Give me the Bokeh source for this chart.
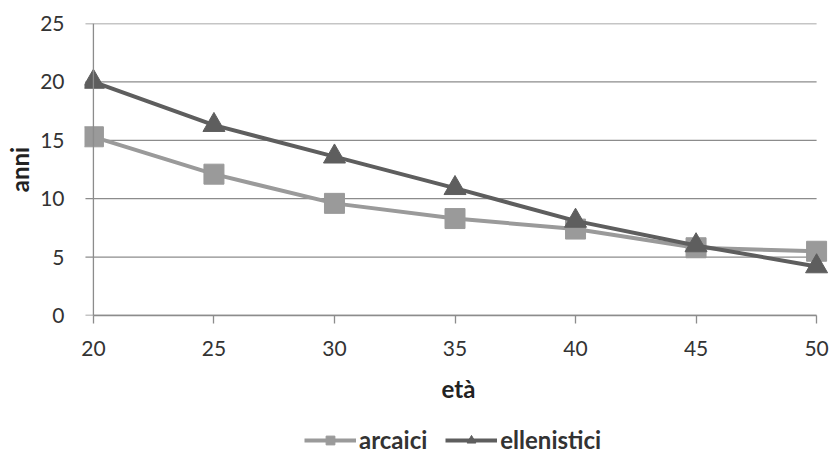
from bokeh.plotting import figure
from bokeh.layouts import column
from bokeh.models import Range1d, Span, Legend, LegendItem, FixedTicker
from bokeh.embed import file_html
from bokeh.resources import INLINE

eta = [20, 25, 30, 35, 40, 45, 50]
arcaici = [15.3, 12.1, 9.6, 8.3, 7.4, 5.8, 5.5]
ellenistici = [20.0, 16.3, 13.6, 10.9, 8.1, 6.0, 4.2]
y_ticks = [0, 5, 10, 15, 20, 25]
x_ticks = [20, 25, 30, 35, 40, 45, 50]

FONT = "Lato"
C_ARC = "#9a9a9a"
C_ELL = "#5e5e5e"
C_GRID = "#8c8c8c"

p = figure(frame_width=748, frame_height=292, output_backend="svg", toolbar_location=None,
           x_range=Range1d(19.63, 50.66), y_range=Range1d(0, 25),
           min_border_left=84, min_border_right=0, min_border_top=23, min_border_bottom=109)
p.outline_line_color = None
p.xgrid.visible = False
p.ygrid.visible = False

# horizontal gridlines (with the small left ticks)
ext = 0.33
p.segment(x0=[min(x_ticks) - ext] * len(y_ticks), y0=y_ticks,
          x1=[max(x_ticks)] * len(y_ticks), y1=y_ticks,
          line_color=C_GRID, line_width=1.3)
# vertical axis line
p.add_layout(Span(location=min(x_ticks), dimension="height", line_color=C_GRID, line_width=1.3))

# x axis
xa = p.xaxis[0]
xa.bounds = (min(x_ticks), max(x_ticks))
xa.ticker = FixedTicker(ticks=x_ticks)
xa.axis_line_color = C_GRID
xa.axis_line_width = 1.3
xa.major_tick_line_color = C_GRID
xa.major_tick_line_width = 1.3
xa.major_tick_in = 0
xa.major_tick_out = 8
xa.minor_tick_line_color = None
xa.major_label_text_font = FONT
xa.major_label_text_font_size = "21px"
xa.major_label_text_color = "#333333"
xa.major_label_standoff = 17
xa.axis_label = "età"
xa.axis_label_text_font = FONT
xa.axis_label_text_font_size = "24px"
xa.axis_label_text_font_style = "bold"
xa.axis_label_text_color = "#222222"
xa.axis_label_standoff = 15

# y axis (labels only)
ya = p.yaxis[0]
ya.ticker = FixedTicker(ticks=y_ticks)
ya.axis_line_color = None
ya.major_tick_line_color = None
ya.minor_tick_line_color = None
ya.major_label_text_font = FONT
ya.major_label_text_font_size = "21px"
ya.major_label_text_color = "#333333"
ya.major_label_standoff = 14
ya.axis_label = "anni"
ya.axis_label_text_font = FONT
ya.axis_label_text_font_size = "24px"
ya.axis_label_text_font_style = "bold"
ya.axis_label_text_color = "#222222"
ya.axis_label_standoff = 3

p.line(eta, arcaici, line_color=C_ARC, line_width=4)
p.scatter(eta, arcaici, marker="square", size=20, fill_color=C_ARC, line_color=C_ARC)
p.line(eta, ellenistici, line_color=C_ELL, line_width=4)
p.scatter(eta, ellenistici, marker="triangle", size=22, fill_color=C_ELL, line_color=C_ELL)

# legend strip below the chart
q = figure(width=832, height=30, output_backend="svg", toolbar_location=None,
           x_axis_type=None, y_axis_type=None, min_border=0,
           x_range=Range1d(0, 1), y_range=Range1d(0, 1))
q.outline_line_color = None
q.grid.visible = False
l1 = q.line(eta, arcaici, line_color=C_ARC, line_width=4, visible=False)
m1 = q.scatter(eta, arcaici, marker="square", size=20, fill_color=C_ARC, line_color=C_ARC, visible=False)
l2 = q.line(eta, ellenistici, line_color=C_ELL, line_width=4, visible=False)
m2 = q.scatter(eta, ellenistici, marker="triangle", size=22, fill_color=C_ELL, line_color=C_ELL, visible=False)

legend = Legend(items=[LegendItem(label="arcaici", renderers=[l1, m1]),
                       LegendItem(label="ellenistici", renderers=[l2, m2])],
                orientation="horizontal", location=(220, 0),
                label_text_font=FONT, label_text_font_size="24px", label_text_font_style="bold",
                label_text_color="#333333", glyph_width=52, glyph_height=22,
                spacing=18, label_standoff=3, border_line_color=None,
                background_fill_alpha=0, margin=0, padding=0)
q.add_layout(legend, "center")

layout = column(p, q, spacing=0)
open("out.html", "w").write(file_html(layout, INLINE))
